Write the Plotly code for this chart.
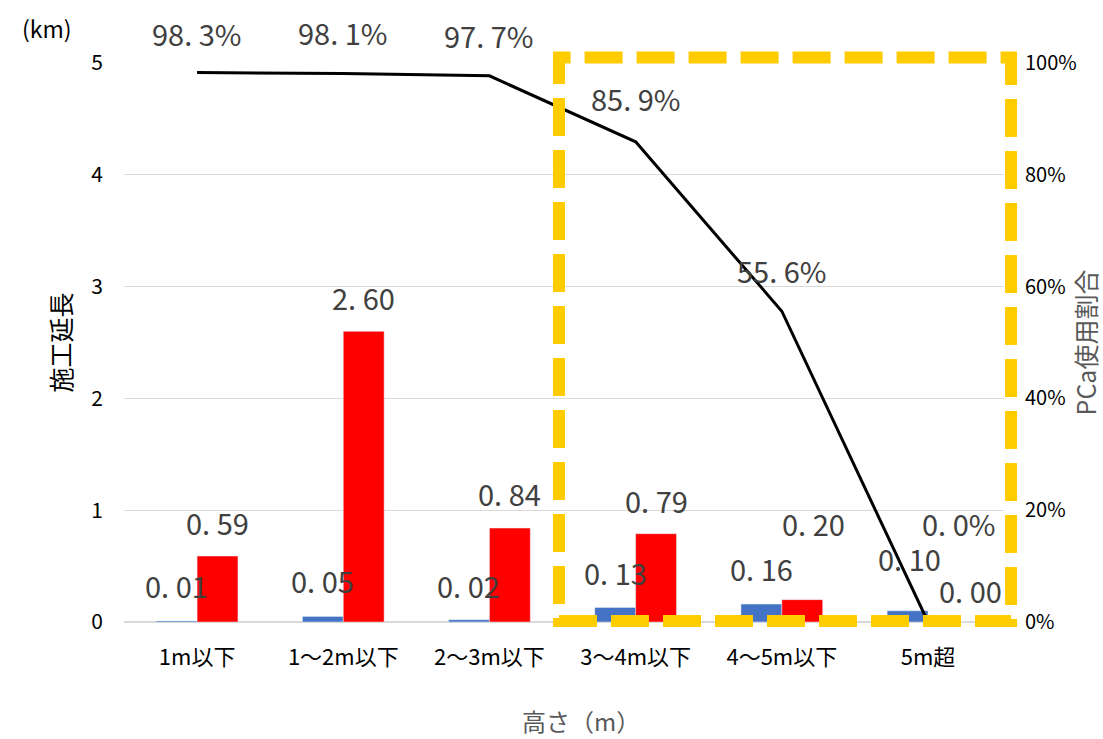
import plotly.graph_objects as go

# Height classes of the retaining walls
categories = ["1m以下", "1～2m以下", "2～3m以下", "3～4m以下", "4～5m以下", "5m超"]

# Construction length (km): cast-in-place vs. precast (PCa)
length_cast = [0.01, 0.05, 0.02, 0.13, 0.16, 0.10]
length_pca = [0.59, 2.60, 0.84, 0.79, 0.20, 0.00]

# Share of precast use (%)
pca_share = [98.3, 98.1, 97.7, 85.9, 55.6, 0.0]

FONT = "Noto Sans CJK JP"
LABEL_COLOR = "#404040"
BLUE = "#4472C4"
RED = "#FF0000"

# label offsets in px (dx, dy) relative to bar top / line point
cast_offsets = [(0, -36), (0, -36), (0, -35), (0, -35), (0, -36), (2, -53)]
pca_offsets = [(0, -34), (0, -34), (0, -35), (0, -34), (11, -77), (22, -32)]
share_offsets = [(0, -40), (0, -42), (0, -41), (0, -44), (0, -41), (30, -99)]
BAR_HALF = 20.5
LABEL_FONT = dict(family=FONT, size=29, color=LABEL_COLOR)


def fmt_len(v):
    return f"{v:.2f}".replace(".", ". ")


def fmt_pct(v):
    return f"{v:.1f}".replace(".", ". ") + "%"


fig = go.Figure()
fig.add_trace(go.Bar(x=categories, y=length_cast, marker_color=BLUE,
                     name="現場打ち", hoverinfo="skip"))
fig.add_trace(go.Bar(x=categories, y=length_pca, marker_color=RED,
                     name="PCa", hoverinfo="skip"))
fig.add_trace(go.Scatter(x=categories, y=[p / 100 for p in pca_share],
                         yaxis="y2", mode="lines",
                         line=dict(color="black", width=3),
                         name="PCa使用割合", hoverinfo="skip"))

annotations = []
for c, v, (dx, dy) in zip(categories, length_cast, cast_offsets):
    annotations.append(dict(x=c, y=v, xref="x", yref="y", text=fmt_len(v),
                            showarrow=False, xshift=-BAR_HALF + dx, yshift=-dy,
                            xanchor="center", yanchor="middle", font=LABEL_FONT))
for c, v, (dx, dy) in zip(categories, length_pca, pca_offsets):
    annotations.append(dict(x=c, y=v, xref="x", yref="y", text=fmt_len(v),
                            showarrow=False, xshift=BAR_HALF + dx, yshift=-dy,
                            xanchor="center", yanchor="middle", font=LABEL_FONT))
for c, v, (dx, dy) in zip(categories, pca_share, share_offsets):
    annotations.append(dict(x=c, y=v / 100, xref="x", yref="y2", text=fmt_pct(v),
                            showarrow=False, xshift=dx, yshift=-dy,
                            xanchor="center", yanchor="middle", font=LABEL_FONT))

# unit label above the left axis
annotations.append(dict(x=-0.0875, y=1.0626, xref="paper", yref="paper",
                        text="(km)", showarrow=False,
                        xanchor="center", yanchor="middle",
                        font=dict(family=FONT, size=23, color="black")))

# category axis title
annotations.append(dict(x=0.519, y=-0.177, xref="paper", yref="paper",
                        text="高さ（m）", showarrow=False,
                        xanchor="center", yanchor="middle",
                        font=dict(family=FONT, size=24, color="#595959")))

fig.update_layout(
    width=1103, height=739,
    margin=dict(l=124, r=99, t=63, b=117, autoexpand=False),
    paper_bgcolor="white", plot_bgcolor="white",
    barmode="group", bargap=0.441, bargroupgap=0,
    showlegend=False,
    font=dict(family=FONT, color="black"),
    annotations=annotations,
    xaxis=dict(
        showgrid=False, showline=False, ticks="", automargin=False,
        tickfont=dict(family=FONT, size=22, color="black"),
        ticklabelstandoff=20,
    ),
    yaxis=dict(
        range=[0, 5], dtick=1, tickformat="d", automargin=False,
        showgrid=True, gridcolor="#D9D9D9", gridwidth=1,
        zeroline=True, zerolinecolor="#D9D9D9", zerolinewidth=1.5,
        showline=False, ticks="",
        tickfont=dict(family=FONT, size=21, color="black"),
        ticklabelstandoff=20,
        title=dict(text="施工延長", standoff=12,
                   font=dict(family=FONT, size=25, color="black")),
    ),
    yaxis2=dict(
        range=[0, 1], dtick=0.2, tickformat=".0%", automargin=False,
        overlaying="y", side="right",
        showgrid=False, zeroline=False, showline=False, ticks="",
        tickfont=dict(family=FONT, size=20, color="black"),
        ticklabelstandoff=20,
        title=dict(text="PCa使用割合", standoff=10,
                   font=dict(family=FONT, size=25, color="#595959")),
    ),
    shapes=[dict(
        type="rect", xref="paper", yref="paper",
        x0=0.4943, x1=1.008, y0=0.0018, y1=1.0098,
        line=dict(color="#FFCC00", width=12, dash="38px,14px"),
        fillcolor="rgba(0,0,0,0)", layer="above",
    )],
)

fig.write_html("out.html")
